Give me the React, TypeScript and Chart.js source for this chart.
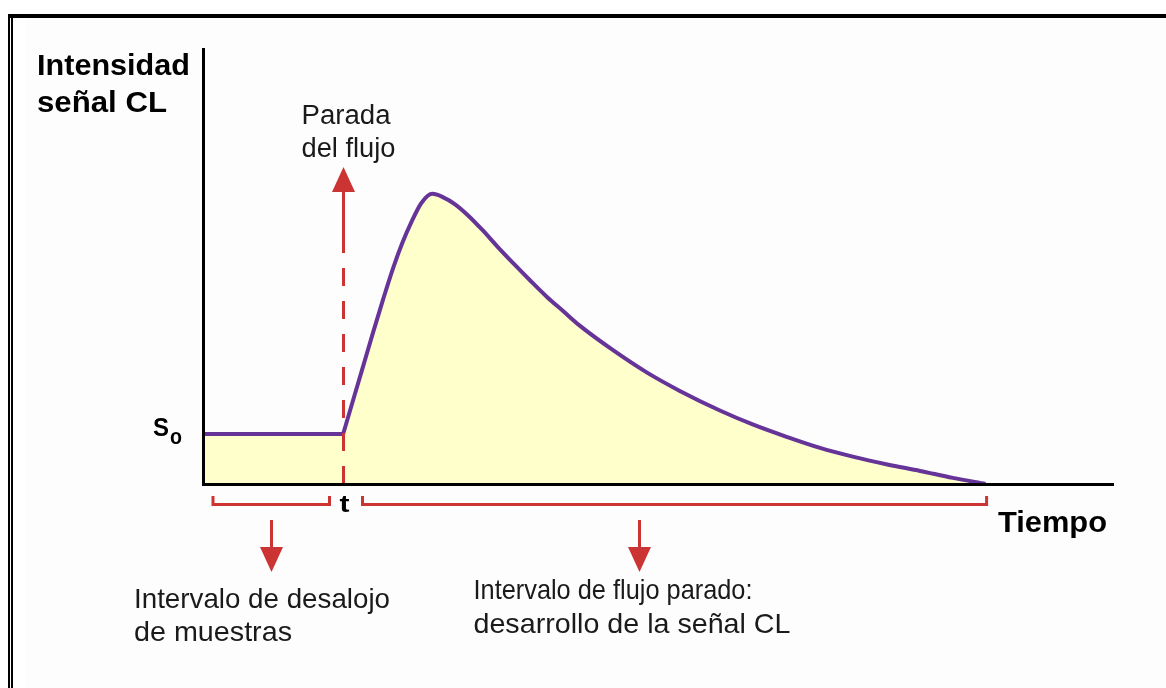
import React, { useEffect, useRef } from "react";
import { Chart, registerables } from "chart.js";
Chart.register(...registerables);

// ---- data (arbitrary units: Tiempo 0..100, Intensidad 0..100) ----
const flatTiempo = [0, 15.4];
const flatIntensidad = [11.5, 11.5];
const tiempo = [15.4, 16.5, 17.6, 18.7, 19.8, 20.9, 21.9, 22.9, 24.0, 25.2, 26.4, 27.7, 29.1, 30.7, 32.3, 34.3, 35.9, 37.8, 39.6, 41.4, 45.1, 48.8, 52.4, 56.8, 60.4, 64.2, 67.8, 71.4, 75.2, 78.8, 82.4, 86.0];
const intensidad = [11.5, 19.3, 27.1, 34.9, 42.5, 49.7, 55.4, 60.2, 64.6, 66.7, 65.9, 64.3, 61.8, 58.4, 54.7, 50.3, 46.9, 43.0, 39.7, 36.4, 30.7, 25.6, 21.4, 16.9, 13.7, 10.8, 8.3, 6.3, 4.5, 3.0, 1.4, 0];
const flowStop = 15.4;
const xMax = 100;
const yMax = 100;

const yTitle = ["Intensidad", "señal CL"];
const xTitle = "Tiempo";
const stopLabel = ["Parada", "del flujo"];
const leftLabel = ["Intervalo de desalojo", "de muestras"];
const rightLabel = ["Intervalo de flujo parado:", "desarrollo de la señal CL"];

const PURPLE = "#663399";
const FILL = "#ffffcc";
const RED = "#cc3333";
const FONT = "'Liberation Sans', Arial, sans-serif";

function drawFit(ctx: CanvasRenderingContext2D, text: string, x: number, y: number, width: number, font: string, color = "#000") {
  ctx.save();
  ctx.font = font;
  ctx.fillStyle = color;
  ctx.textBaseline = "alphabetic";
  ctx.textAlign = "left";
  const w = ctx.measureText(text).width;
  ctx.translate(x, y);
  ctx.scale(width / w, 1);
  ctx.fillText(text, 0, 0);
  ctx.restore();
}

const annotations = {
  id: "annotations",
  beforeDraw(chart: any) {
    const ctx = chart.ctx as CanvasRenderingContext2D;
    const W = chart.width, H = chart.height;
    ctx.save();
    ctx.fillStyle = "#ffffff";
    ctx.fillRect(0, 0, W, H);
    ctx.fillStyle = "#fdfdfd";
    ctx.fillRect(26, 18, W - 26, H - 18);
    ctx.fillStyle = "#000";
    ctx.fillRect(8, 14, W - 8, 4);
    ctx.fillRect(8, 14, 2, H - 14);
    ctx.fillRect(11, 14, 2, H - 14);
    ctx.restore();
  },
  afterDatasetsDraw(chart: any) {
    const ctx = chart.ctx as CanvasRenderingContext2D;
    const { left: L, top: T, bottom: B, right: R } = chart.chartArea;
    const xs = chart.scales.x;
    const tPx = Math.round(xs.getPixelForValue(flowStop)) + 0.5;
    const endPx = xs.getPixelForValue(tiempo[tiempo.length - 1]);
    ctx.save();
    ctx.strokeStyle = RED;
    ctx.fillStyle = RED;
    ctx.lineWidth = 3;
    // dashed stop line
    ctx.setLineDash([18, 15]);
    ctx.beginPath();
    ctx.moveTo(tPx, B);
    ctx.lineTo(tPx, T + 194);
    ctx.stroke();
    ctx.setLineDash([]);
    ctx.beginPath();
    ctx.moveTo(tPx, T + 194);
    ctx.lineTo(tPx, T + 140);
    ctx.stroke();
    ctx.beginPath();
    ctx.moveTo(tPx, T + 118);
    ctx.lineTo(tPx + 11.5, T + 143);
    ctx.lineTo(tPx - 11.5, T + 143);
    ctx.closePath();
    ctx.fill();
    // brackets
    const by = B + 20.5, bt = B + 12;
    const bracket = (x1: number, x2: number) => {
      ctx.beginPath();
      ctx.moveTo(x1, bt);
      ctx.lineTo(x1, by);
      ctx.lineTo(x2, by);
      ctx.lineTo(x2, bt);
      ctx.lineJoin = "miter";
      ctx.stroke();
    };
    bracket(L + 10, tPx - 14);
    bracket(tPx + 19, endPx + 1);
    // down arrows
    const downArrow = (x: number) => {
      ctx.beginPath();
      ctx.moveTo(x, B + 36);
      ctx.lineTo(x, B + 66);
      ctx.stroke();
      ctx.beginPath();
      ctx.moveTo(x - 11.5, B + 63);
      ctx.lineTo(x + 11.5, B + 63);
      ctx.lineTo(x, B + 88);
      ctx.closePath();
      ctx.fill();
    };
    downArrow(Math.round((L + 10 + tPx - 14) / 2) + 0.5);
    downArrow(tPx + 296);
    ctx.restore();

    // texts
    const bold = (s: number) => `bold ${s}px ${FONT}`;
    const reg = (s: number) => `${s}px ${FONT}`;
    drawFit(ctx, yTitle[0], L - 166, T + 26, 153, bold(29));
    drawFit(ctx, yTitle[1], L - 166, T + 63, 130, bold(29));
    drawFit(ctx, stopLabel[0], tPx - 42, T + 75, 89, reg(27), "#1a1a1a");
    drawFit(ctx, stopLabel[1], tPx - 42, T + 108, 94, reg(27), "#1a1a1a");
    drawFit(ctx, "S", L - 50, B - 48, 16, bold(26));
    drawFit(ctx, "o", L - 33, B - 40, 12, bold(22));
    drawFit(ctx, "t", tPx - 4, B + 28, 10, bold(24));
    drawFit(ctx, xTitle, R - 115, B + 48, 109, bold(29));
    drawFit(ctx, leftLabel[0], L - 69, B + 124, 256, reg(28), "#1a1a1a");
    drawFit(ctx, leftLabel[1], L - 69, B + 157, 158, reg(28), "#1a1a1a");
    drawFit(ctx, rightLabel[0], tPx + 130, B + 115, 279, reg(28), "#1a1a1a");
    drawFit(ctx, rightLabel[1], tPx + 130, B + 149, 317, reg(28), "#1a1a1a");
  },
};

export default function App() {
  const ref = useRef<HTMLCanvasElement>(null);
  useEffect(() => {
    const axisCommon = {
      type: "linear" as const,
      min: 0,
      grid: { display: false, drawTicks: false },
      ticks: { display: false },
      border: { display: true, color: "#000", width: 3, z: 1 },
    };
    const chart = new Chart(ref.current!, {
      type: "line",
      data: {
        datasets: [
          {
            data: flatTiempo.map((x, i) => ({ x, y: flatIntensidad[i] })),
            borderColor: PURPLE,
            borderWidth: 4,
            backgroundColor: FILL,
            fill: "origin",
            tension: 0,
            pointRadius: 0,
          },
          {
            data: tiempo.map((x, i) => ({ x, y: intensidad[i] })),
            borderColor: PURPLE,
            borderWidth: 4,
            backgroundColor: FILL,
            fill: "origin",
            cubicInterpolationMode: "monotone",
            borderJoinStyle: "round",
            pointRadius: 0,
          },
        ],
      },
      options: {
        animation: false,
        responsive: false,
        maintainAspectRatio: false,
        layout: { padding: { left: 203, right: 53, top: 49, bottom: 204 } },
        plugins: { legend: { display: false }, tooltip: { enabled: false } },
        scales: {
          x: { ...axisCommon, max: xMax },
          y: { ...axisCommon, max: yMax },
        },
      },
      plugins: [annotations],
    } as any);
    return () => chart.destroy();
  }, []);
  return (
    <div style={{ position: "fixed", left: 0, top: 0, width: 1166, height: 688, background: "#fff" }}>
      <canvas ref={ref} width={1166} height={688} style={{ display: "block", width: 1166, height: 688 }} />
    </div>
  );
}
